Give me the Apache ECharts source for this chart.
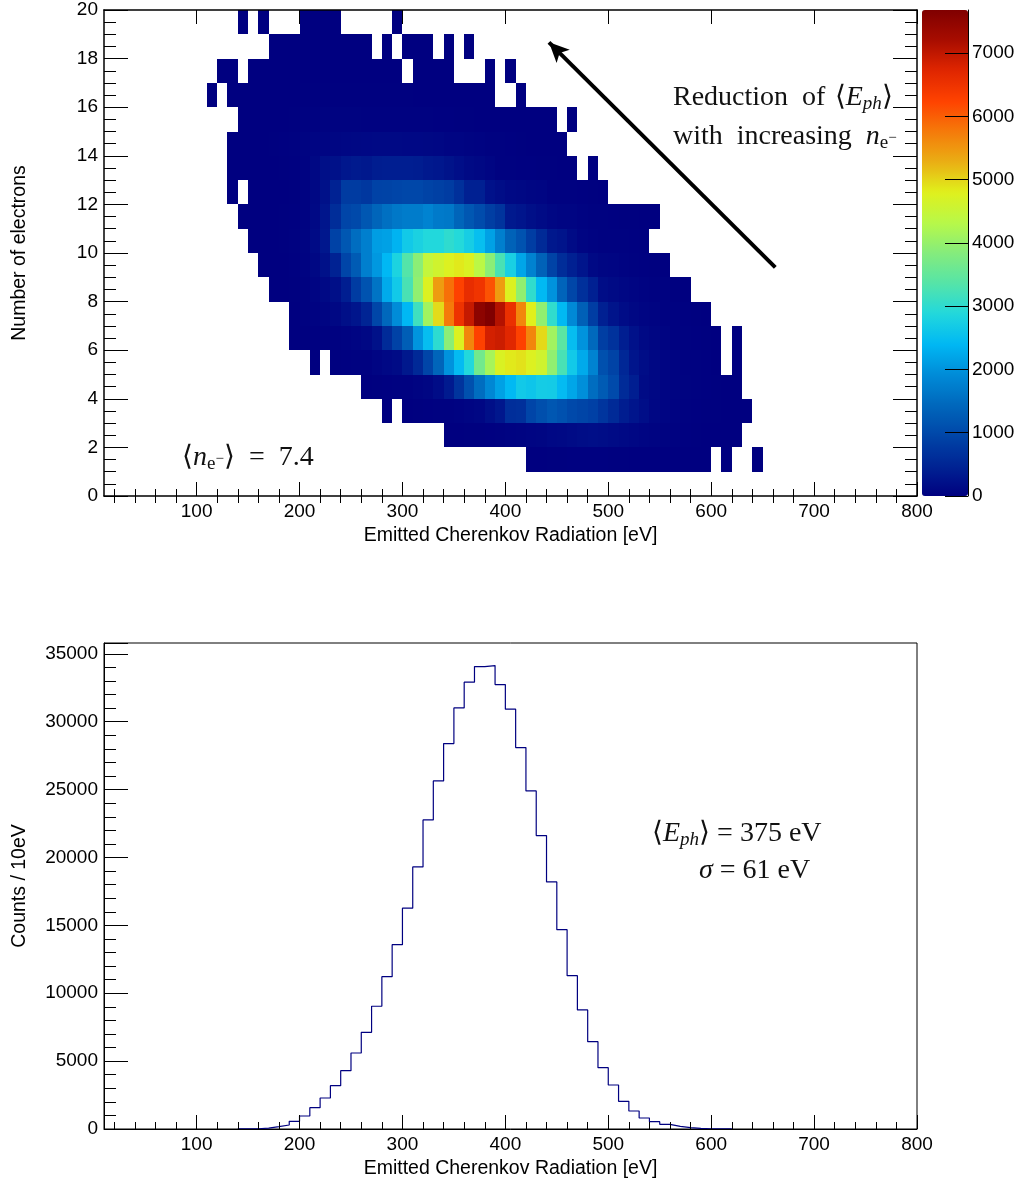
<!DOCTYPE html>
<html lang="en">
<head>
    <meta charset="UTF-8">
    <title>Cherenkov</title>
    <script src="https://cdn.jsdelivr.net/npm/echarts@6/dist/echarts.min.js"></script>
    <style>
        html, body { margin: 0; padding: 0; background: #fff; }
    </style>
</head>
<body>
    <div id="main" style="width:1018px;height:1183px;"></div>
    <script type="text/javascript">
        // 2D histogram: electrons per row (row n is the bin [n, n+1]), 10 eV bins, null = empty bin
        const rowNumbers = [1, 2, 3, 4, 5, 6, 7, 8, 9, 10, 11, 12, 13, 14, 15, 16, 17, 18, 19]
        const rowFirstEnergy = [420, 340, 280, 260, 210, 190, 190, 170, 160, 150, 140, 130, 130, 130, 140, 110, 120, 170, 140]
        const row1 = [3, 5, 8, 10, 12, 15, 15, 12, 10, 8, 6, 5, 4, 3, 2, 2, 1, 1, null, 1, null, null, 1]
        const row2 = [3, 5, 8, 10, 15, 25, 40, 50, 70, 80, 110, 120, 140, 170, 190, 170, 150, 120, 90, 70, 50, 35, 25, 15, 10, 6, 4, 2, 1]
        const row3 = [1, null, 5, 8, 12, 20, 30, 40, 60, 90, 200, 310, 620, 650, 950, 1080, 1200, 1120, 1000, 940, 880, 720, 560, 380, 280, 180, 90, 60, 40, 25, 15, 10, 8, 5, 3, 1]
        const row4 = [5, 10, 15, 20, 30, 50, 80, 160, 350, 700, 1100, 1500, 1850, 2150, 2420, 2650, 2600, 2700, 2680, 2450, 2200, 1950, 1500, 1250, 1020, 580, 400, 150, 100, 70, 50, 35, 25, 15, 10, 5, 3]
        const row5 = [5, null, 10, 15, 20, 30, 60, 110, 150, 320, 550, 950, 1400, 2000, 2450, 2880, 3650, 4150, 4720, 4850, 4900, 4750, 4600, 3950, 3250, 2650, 2250, 1800, 1100, 920, 520, 280, 170, 100, 70, 50, 30, 20, 12, 6, null, 2]
        const row6 = [1, 10, 15, 20, 30, 40, 60, 100, 220, 580, 900, 1300, 2020, 2480, 2980, 3900, 4750, 5650, 6250, 6830, 6900, 6700, 6250, 5650, 4970, 4100, 3420, 2480, 2000, 1450, 850, 680, 400, 230, 120, 80, 50, 30, 20, 12, 8, 4, null, 1]
        const row7 = [2, 20, 40, 60, 100, 200, 280, 480, 960, 1440, 1920, 2400, 3150, 4100, 4950, 5760, 6500, 6950, 7530, 7680, 7100, 6550, 5650, 4800, 3950, 3020, 2420, 1880, 1320, 830, 430, 260, 160, 100, 70, 50, 30, 20, 15, 10, 5]
        const row8 = [1, 2, 8, 20, 60, 120, 200, 400, 820, 1150, 1600, 2250, 2650, 3250, 3950, 4750, 5450, 5850, 6250, 6600, 6480, 6100, 5450, 4750, 3950, 3020, 2420, 2000, 1380, 960, 650, 420, 170, 130, 90, 60, 40, 30, 20, 10, 5]
        const row9 = [1, 2, 4, 15, 40, 100, 220, 450, 950, 1250, 1750, 2050, 2400, 2800, 3350, 3900, 4450, 4600, 4750, 4850, 4730, 4350, 3900, 3250, 2750, 2200, 1780, 1350, 920, 600, 420, 280, 120, 80, 60, 40, 25, 15, 10, 5]
        const row10 = [1, 2, 4, 8, 20, 50, 150, 300, 900, 1200, 1500, 1750, 2100, 2150, 2350, 2650, 2780, 2880, 2880, 3000, 2900, 2720, 2500, 2150, 1750, 1350, 1150, 830, 560, 320, 260, 150, 60, 40, 30, 25, 20, 12, 8]
        const row11 = [1, 2, 3, 5, 8, 15, 40, 120, 280, 600, 950, 1000, 1200, 1400, 1550, 1650, 1700, 1700, 1800, 1680, 1650, 1400, 1200, 1050, 850, 700, 330, 280, 200, 150, 90, 70, 60, 40, 30, 20, 15, 10, 8, 5, 3]
        const row12 = [1, null, 1, 2, 3, 5, 10, 40, 100, 220, 450, 800, 800, 750, 900, 920, 950, 980, 980, 920, 870, 820, 650, 420, 420, 230, 170, 120, 100, 80, 60, 30, 25, 20, 15, 8, 5]
        const row13 = [1, 1, 2, 3, 5, 8, 12, 40, 100, 200, 220, 300, 340, 320, 380, 400, 400, 400, 390, 330, 310, 250, 180, 130, 100, 60, 30, 20, 15, 12, 10, 8, 5, 3, null, 1]
        const row14 = [1, 2, 3, 5, 8, 15, 30, 50, 60, 70, 80, 90, 100, 110, 120, 120, 120, 110, 110, 100, 90, 70, 60, 50, 40, 30, 20, 15, 10, 6, 4, 2, 1]
        const row15 = [1, 2, 3, 4, 6, 10, 25, 30, 35, 35, 35, 35, 30, 30, 25, 25, 25, 20, 20, 15, 12, 10, 8, 6, 4, 3, 3, 2, 1, 1, 1, null, 1]
        const row16 = [1, null, 1, 1, 1, 2, 2, 3, 4, 8, 8, 10, 10, 10, 10, 10, 10, 8, 8, 8, 6, 6, 6, 4, 4, 3, 3, 2, null, null, 1]
        const row17 = [1, 1, null, 1, 1, 1, 1, 2, 2, 2, 2, 2, 2, 2, 2, 2, 2, 1, null, 1, 1, 1, 1, null, null, null, 1, null, 1]
        const row18 = [1, 1, 1, 1, 1, 1, 1, 1, 1, 1, null, 1, null, 1, 1, 1, null, 1, null, 1]
        const row19 = [1, null, 1, null, null, null, 1, 1, 1, 1, null, null, null, null, null, 1]
        const rows = [row1, row2, row3, row4, row5, row6, row7, row8, row9, row10, row11, row12, row13, row14, row15, row16, row17, row18, row19]

        // 1D projection, counts per 10 eV bin starting at 140 eV
        const histFirstEnergy = 140
        const histCounts = [5, 20, 60, 170, 295, 567, 958, 1570, 2284, 3190, 4296, 5600, 7125, 9041, 11222, 13580, 16263, 19306, 22770, 25640, 28390, 31020, 32915, 34065, 34139, 32740, 30926, 28097, 24906, 21613, 18201, 14686, 11296, 8769, 6432, 4517, 3242, 2041, 1326, 811, 538, 346, 199, 100, 50, 20, 8, 3, 0]

        // annotation arrow in data units [energy, electrons]
        const arrowFrom = [662.3, 9.41]
        const arrowTo = [442.4, 18.67]

        const paletteColors = ['#000080', '#002494', '#0046a8', '#0068bc', '#008cd8', '#00b8f4', '#22d8dc', '#55e4a8', '#85ec7c', '#b8f848', '#e0f01c', '#eaae14', '#f57a0a', '#ff4200', '#e02600', '#a80d00', '#800000']
        const colorMax = 7680
        const colorTicks = [0, 1000, 2000, 3000, 4000, 5000, 6000, 7000]
        const energyTicks = [100, 200, 300, 400, 500, 600, 700, 800]
        const energyMinorTicks = [20, 40, 60, 80, 120, 140, 160, 180, 220, 240, 260, 280, 320, 340, 360, 380, 420, 440, 460, 480, 520, 540, 560, 580, 620, 640, 660, 680, 720, 740, 760, 780]

        const heatData = []
        rows.forEach((row, r) => {
            row.forEach((count, i) => {
                if (count !== null) heatData.push([rowFirstEnergy[r] + i * 10, rowNumbers[r], count])
            })
        })
        const histData = histCounts.map((count, i) => [histFirstEnergy + i * 10, count])

        const fontName = '"Liberation Sans", Arial, sans-serif'
        const serifName = '"Liberation Serif", serif'
        const labelStyle = { color: '#000', fontFamily: fontName, fontSize: 19 }
        const nameStyle = { color: '#000', fontFamily: fontName, fontSize: 19.5 }
        const frame = { show: true, onZero: false, lineStyle: { color: '#000', width: 1.5 } }
        const frameThin = { show: true, onZero: false, lineStyle: { color: '#000', width: 1 } }
        const tickLine = { color: '#000', width: 1 }
        const plainNumber = v => String(v)

        const countTicks = { inside: true, length: 24, lineStyle: tickLine }

        // major ticks and labels of an energy axis
        function energyAxis(gridIndex, position, showLabels, line) {
            return {
                type: 'value', gridIndex: gridIndex, position: position, min: 10, max: 800, z: 5,
                axisLine: line, splitLine: { show: false },
                axisTick: { inside: true, length: 14, lineStyle: tickLine, customValues: energyTicks },
                axisLabel: showLabels ? Object.assign({ margin: 6, customValues: energyTicks, formatter: plainNumber }, labelStyle) : { show: false },
                name: showLabels ? 'Emitted Cherenkov Radiation [eV]' : '',
                nameLocation: 'middle', nameGap: 30, nameTextStyle: nameStyle
            }
        }
        // extra axis that only carries the short ticks every 20 eV
        function energyMinorAxis(gridIndex, position) {
            return {
                type: 'value', gridIndex: gridIndex, position: position, min: 10, max: 800, z: 5,
                axisLine: { show: false }, splitLine: { show: false }, axisLabel: { show: false },
                axisTick: { inside: true, length: 7, lineStyle: tickLine, customValues: energyMinorTicks }
            }
        }
        function electronAxis(position, showLabels) {
            return {
                type: 'value', gridIndex: 0, position: position, min: 0, max: 20, interval: 2, z: 5,
                axisLine: frame, axisTick: countTicks,
                minorTick: { show: true, splitNumber: 4, length: 12, lineStyle: tickLine }, splitLine: { show: false },
                axisLabel: showLabels ? Object.assign({ margin: 6, padding: [2, 0, 0, 0], formatter: plainNumber }, labelStyle) : { show: false },
                name: showLabels ? 'Number of electrons' : '',
                nameLocation: 'middle', nameGap: 74, nameTextStyle: nameStyle
            }
        }

        function renderCell(params, api) {
            const e = api.value(0)
            const n = api.value(1)
            const a = api.coord([e, n + 1])
            const b = api.coord([e + 10, n])
            const x = Math.round(a[0])
            const y = Math.round(a[1])
            return {
                type: 'rect',
                shape: { x: x, y: y, width: Math.round(b[0]) - x, height: Math.round(b[1]) - y },
                style: { fill: api.visual('color') }
            }
        }

        const mathRich = {
            r: { fontFamily: serifName, fontSize: 28, color: '#111' },
            i: { fontFamily: serifName, fontSize: 28, fontStyle: 'italic', color: '#111' },
            s: { fontFamily: serifName, fontSize: 19, fontStyle: 'italic', color: '#111', padding: [12, 0, 0, 0] },
            e: { fontFamily: serifName, fontSize: 19, color: '#111', padding: [12, 0, 0, 0] },
            m: { fontFamily: serifName, fontSize: 15, color: '#111', padding: [2, 0, 0, 0] }
        }
        function mathText(left, top, text) {
            return { type: 'text', left: left, top: top, z: 10, silent: true, style: { text: text, rich: mathRich, fill: '#111' } }
        }

        var myChart = echarts.init(document.getElementById('main'), null, { renderer: 'canvas' })
        var option = {
            animation: false,
            backgroundColor: '#fff',
            textStyle: { fontFamily: fontName },
            grid: [
                { left: 104, top: 10, width: 813, height: 486, show: false },
                { left: 104, top: 643, width: 813, height: 486, show: true, borderColor: '#000', borderWidth: 1 },
                { left: 922, top: 10, width: 46, height: 486, show: false }
            ],
            xAxis: [
                energyAxis(0, 'bottom', true, frame),
                energyAxis(0, 'top', false, frame),
                energyAxis(1, 'bottom', true, frameThin),
                { type: 'value', gridIndex: 2, min: 0, max: 1, show: false },
                energyMinorAxis(0, 'bottom'),
                energyMinorAxis(0, 'top'),
                energyMinorAxis(1, 'bottom')
            ],
            yAxis: [
                electronAxis('left', true),
                electronAxis('right', false),
                {
                    type: 'value', gridIndex: 1, position: 'left', min: 0, max: 35800, interval: 5000, z: 5,
                    axisLine: frameThin, axisTick: countTicks,
                    minorTick: { show: true, splitNumber: 5, length: 12, lineStyle: tickLine }, splitLine: { show: false },
                    axisLabel: Object.assign({ margin: 6, padding: [2, 0, 0, 0], showMaxLabel: false, formatter: plainNumber }, labelStyle),
                    name: 'Counts / 10eV', nameLocation: 'middle', nameGap: 74, nameTextStyle: nameStyle
                },
                {
                    type: 'value', gridIndex: 2, position: 'right', min: 0, max: colorMax, z: 5,
                    axisLine: { show: true, onZero: false, lineStyle: tickLine },
                    axisTick: { inside: true, length: 23, lineStyle: tickLine, customValues: colorTicks },
                    splitLine: { show: false },
                    axisLabel: Object.assign({ margin: 4, padding: [2, 0, 0, 0], customValues: colorTicks, formatter: plainNumber }, labelStyle)
                }
            ],
            visualMap: {
                type: 'continuous', seriesIndex: 0, dimension: 2, min: 0, max: colorMax,
                left: 922, top: 10, itemWidth: 46, itemHeight: 486, padding: 0,
                calculable: false, hoverLink: false, realtime: false,
                inRange: { color: paletteColors }, textStyle: { color: 'transparent' }
            },
            series: [
                {
                    type: 'custom', xAxisIndex: 0, yAxisIndex: 0, data: heatData, renderItem: renderCell,
                    encode: { x: 0, y: 1 }, silent: true, z: 2,
                    markLine: {
                        silent: true, symbol: ['none', 'arrow'], symbolSize: [14, 20], animation: false,
                        label: { show: false },
                        lineStyle: { color: '#000', width: 4, type: 'solid' },
                        data: [[{ coord: arrowFrom }, { coord: arrowTo }]]
                    }
                },
                {
                    type: 'line', xAxisIndex: 2, yAxisIndex: 2, data: histData, step: 'end',
                    showSymbol: false, symbol: 'none', silent: true, z: 2,
                    lineStyle: { color: '#000080', width: 1.2 }
                }
            ],
            graphic: [
                mathText(673, 84, '{r|Reduction\u2002of\u2004⟨}{i|E}{s|ph}{r|⟩}'),
                mathText(673, 123, '{r|with\u2002increasing\u2002}{i|n}{e|e}{m|−}'),
                mathText(182, 444, '{r|⟨}{i|n}{e|e}{m|−}{r|⟩\u2002=\u20027.4}'),
                mathText(652, 820, '{r|⟨}{i|E}{s|ph}{r|⟩ = 375 eV}'),
                mathText(699, 857, '{i|σ}{r| = 61 eV}')
            ]
        }
        myChart.setOption(option)
    </script>
</body>
</html>
